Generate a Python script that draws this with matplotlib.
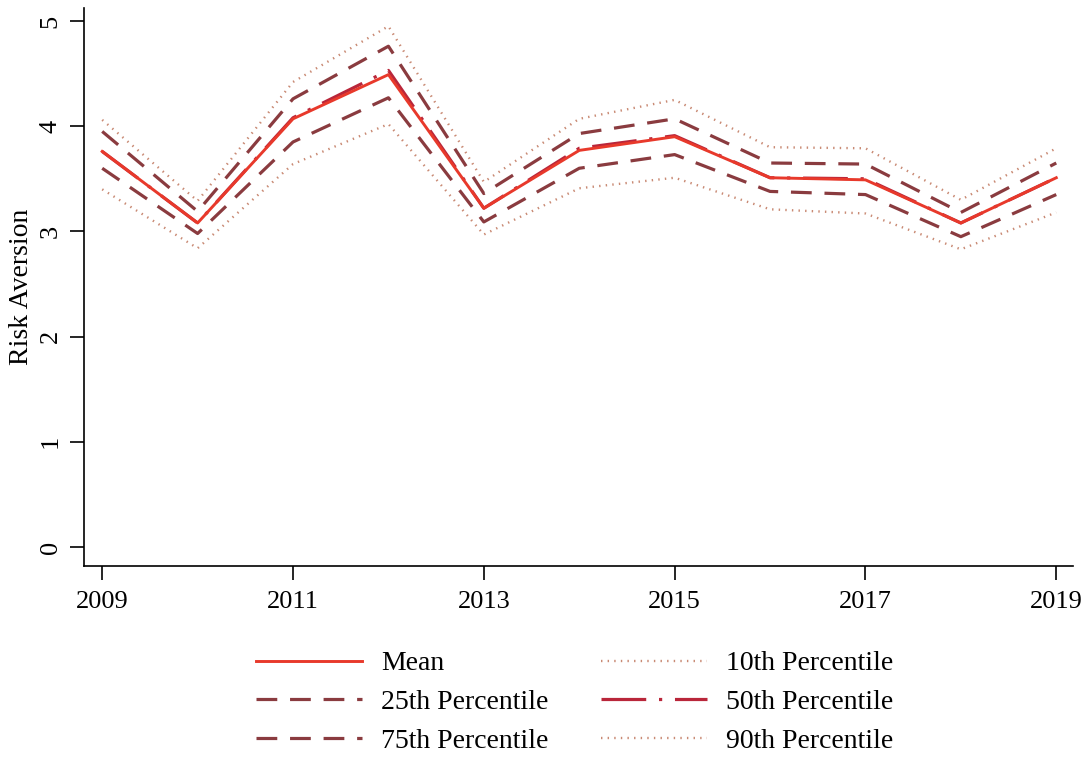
import numpy as np
import matplotlib.pyplot as plt
from matplotlib.lines import Line2D

plt.rcParams['font.family'] = ['Liberation Serif', 'DejaVu Serif']

# Risk aversion by year
years = [2009, 2010, 2011, 2012, 2013, 2014, 2015, 2016, 2017, 2018, 2019]
mean_ra = [3.76, 3.08, 4.07, 4.49, 3.22, 3.77, 3.90, 3.51, 3.49, 3.08, 3.51]
p10 = [3.40, 2.84, 3.64, 4.02, 2.97, 3.41, 3.51, 3.21, 3.17, 2.83, 3.18]
p25 = [3.60, 2.98, 3.85, 4.27, 3.09, 3.60, 3.73, 3.38, 3.35, 2.95, 3.35]
p50 = [3.76, 3.08, 4.08, 4.53, 3.22, 3.79, 3.91, 3.51, 3.50, 3.08, 3.51]
p75 = [3.95, 3.19, 4.26, 4.76, 3.36, 3.93, 4.07, 3.65, 3.64, 3.18, 3.65]
p90 = [4.06, 3.29, 4.42, 4.95, 3.47, 4.07, 4.25, 3.80, 3.79, 3.30, 3.79]

c_mean = '#e8392b'
c_p50 = '#b9263a'
c_dash = '#8a3b3f'
c_dot = '#c98a74'

fig = plt.figure(figsize=(10.92, 7.58), dpi=100)
ax = fig.add_axes([0.077, 0.2533, 0.906, 0.7357])

dash = (0, (6.5, 4))
dot = (0, (0.6, 2.2))
ldd = (0, (14, 4, 1, 4))

ax.plot(years, p10, color=c_dot, lw=1.7, linestyle=dot)
ax.plot(years, p90, color=c_dot, lw=1.7, linestyle=dot)
ax.plot(years, p25, color=c_dash, lw=2.3, linestyle=dash)
ax.plot(years, p75, color=c_dash, lw=2.3, linestyle=dash)
ax.plot(years, p50, color=c_p50, lw=2.3, linestyle=ldd)
ax.plot(years, mean_ra, color=c_mean, lw=2.1, linestyle='-')

ax.set_xlim(2008.81, 2019.18)
ax.set_ylim(-0.18, 5.12)
ax.set_xticks([2009, 2011, 2013, 2015, 2017, 2019])
ax.set_yticks([0, 1, 2, 3, 4, 5])
ax.tick_params(axis='both', direction='out', length=10, width=1.2, labelsize=19)
ax.tick_params(axis='x', pad=8)
ax.tick_params(axis='y', pad=6)
for lab in ax.get_yticklabels():
    lab.set_rotation(90)
    lab.set_va('center')
ax.spines['top'].set_visible(False)
ax.spines['right'].set_visible(False)
ax.spines['left'].set_linewidth(1.2)
ax.spines['bottom'].set_linewidth(1.2)
ax.set_ylabel('Risk Aversion', fontsize=20, labelpad=4)

# legend, row-major order as in the figure
handles = [
    Line2D([], [], color=c_mean, lw=2.1, linestyle='-'),
    Line2D([], [], color=c_dash, lw=2.3, linestyle=dash),
    Line2D([], [], color=c_dash, lw=2.3, linestyle=dash),
    Line2D([], [], color=c_dot, lw=1.7, linestyle=dot),
    Line2D([], [], color=c_p50, lw=2.3, linestyle=ldd),
    Line2D([], [], color=c_dot, lw=1.7, linestyle=dot),
]
labels = ['Mean', '25th Percentile', '75th Percentile',
          '10th Percentile', '50th Percentile', '90th Percentile']
fig.legend(handles, labels, ncol=2, frameon=False, fontsize=20,
           loc='center', bbox_to_anchor=(0.5266, 0.0735),
           handlelength=3.8, handletextpad=0.7, columnspacing=1.9,
           labelspacing=0.48, borderpad=0)

fig.savefig('out.png', dpi=100)
